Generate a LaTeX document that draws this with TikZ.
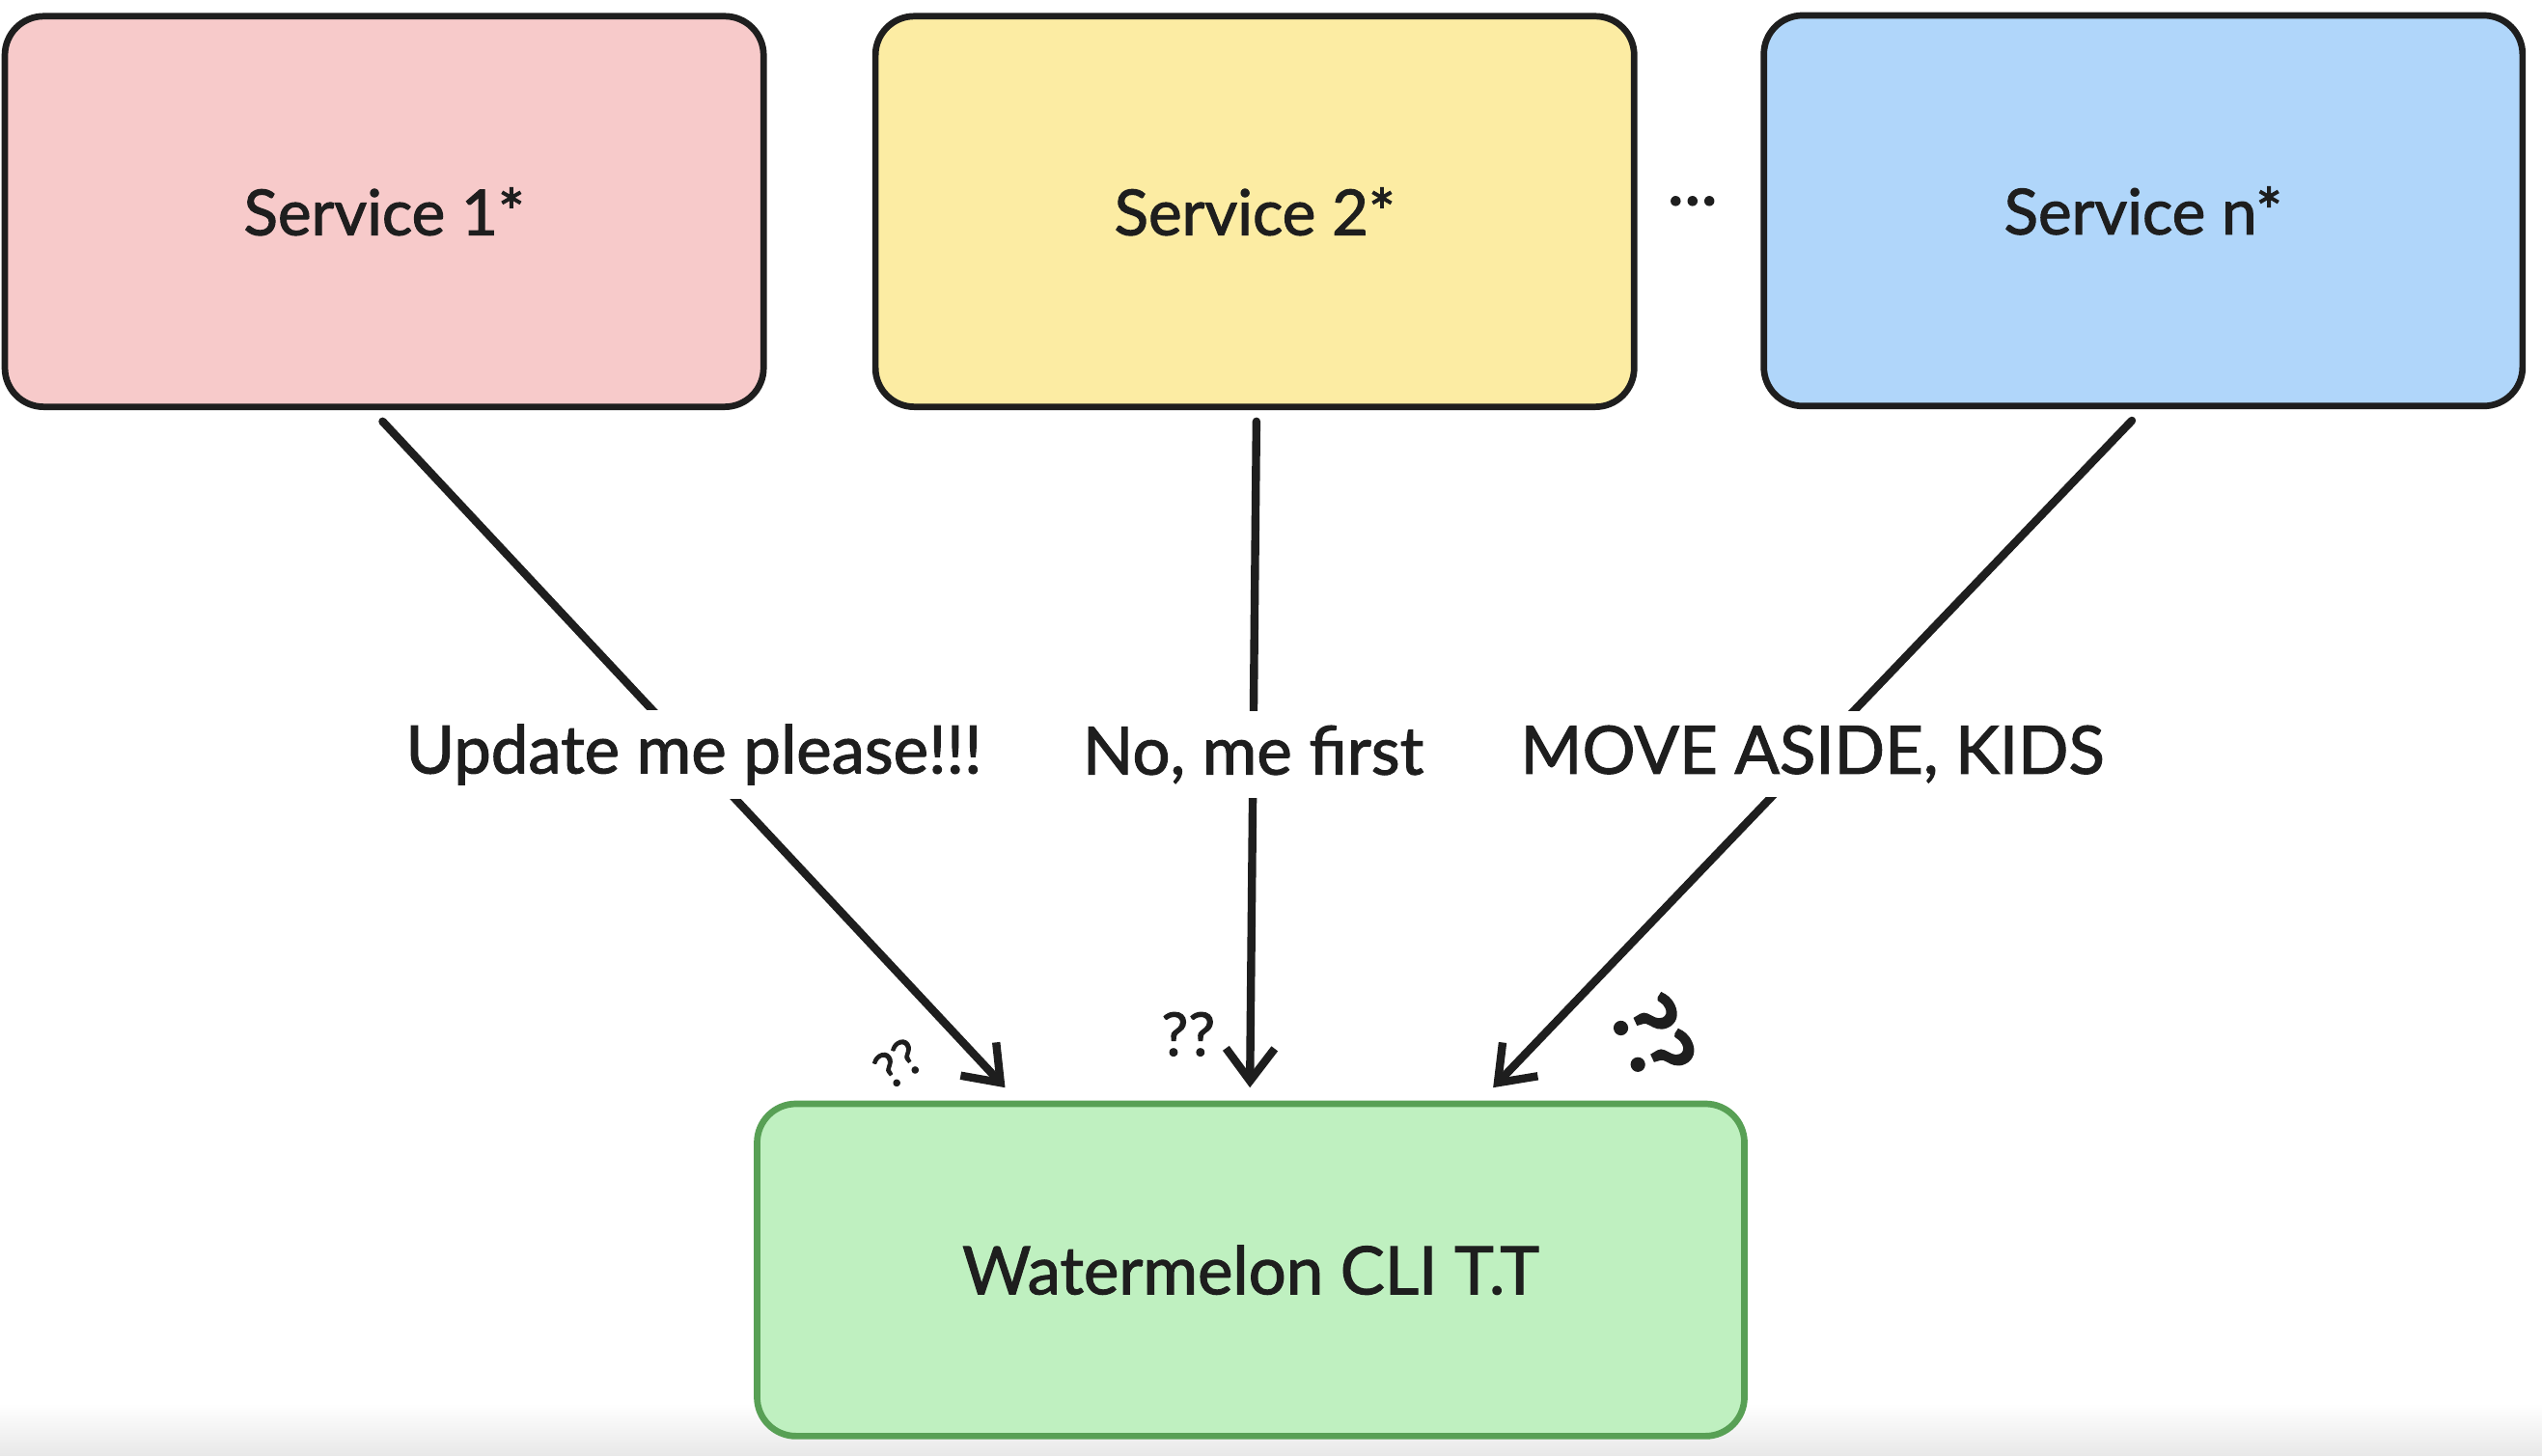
\documentclass[tikz,border=0pt]{standalone}
\usepackage{fontspec}
\setmainfont{Lato}[FakeBold=1.6]
\usetikzlibrary{arrows.meta,calc}
\definecolor{ink}{HTML}{1E1E1E}
\definecolor{pinkfill}{HTML}{F7CACA}
\definecolor{yellowfill}{HTML}{FCECA3}
\definecolor{bluefill}{HTML}{B0D6FA}
\definecolor{greenfill}{HTML}{BFF0C0}
\definecolor{greenline}{HTML}{58A055}
\begin{document}
\begin{tikzpicture}[x=1pt,y=-1pt,
  box/.style={draw=ink, line width=4pt, rounded corners=24pt, minimum width=468pt, minimum height=241pt, font=\fontsize{39}{44}\selectfont, text=ink},
  conn/.style={draw=ink, line width=5pt, line cap=round, -{Straight Barb[length=20pt,width=30pt,line width=5pt]}},
  lbl/.style={fill=white, inner sep=9pt, font=\fontsize{41}{46}\selectfont, text=ink},
  qm/.style={text=ink, inner sep=0pt}]
\useasboundingbox (0,0) rectangle (1568,898);
\fill[top color=white, bottom color=black!9] (0,866) rectangle (1568,898);
\node[box, fill=pinkfill] (s1) at (237,130.5) {Service 1*};
\node[box, fill=yellowfill] (s2) at (774,130.5) {Service 2*};
\node[box, fill=bluefill] (s3) at (1322,130) {Service n*};
\node[text=ink, font=\fontsize{44}{48}\selectfont, inner sep=0pt] (dots) at (1044,124) {...};
\node[box, draw=greenline, fill=greenfill, minimum width=609pt, minimum height=205pt, font=\fontsize{41}{46}\selectfont] (w) at (771.5,783.5) {Watermelon CLI T.T};
\draw[conn] ([xshift=-1pt,yshift=-7pt]s1.south) -- node[lbl] (l1) {Update me please!!!} ([xshift=-151.5pt,yshift=8pt]w.north);
\draw[conn] ([xshift=1pt,yshift=-7pt]s2.south) -- node[lbl] (l2) {No, me first} ([xshift=-0.5pt,yshift=8pt]w.north);
\draw[conn] ([xshift=-7pt,yshift=-7pt]s3.south) -- node[lbl] (l3) {MOVE ASIDE, KIDS} ([xshift=149.5pt,yshift=8pt]w.north);
\node[qm, rotate=35, font=\fontsize{31}{34}\selectfont] (q1) at (554,656) {??};
\node[qm, font=\fontsize{37}{40}\selectfont] (q2) at (733,638) {??};
\node[qm, rotate=-65, font=\fontsize{54}{58}\selectfont\bfseries] (q3) at (1020,640) {??};
\end{tikzpicture}
\end{document}
